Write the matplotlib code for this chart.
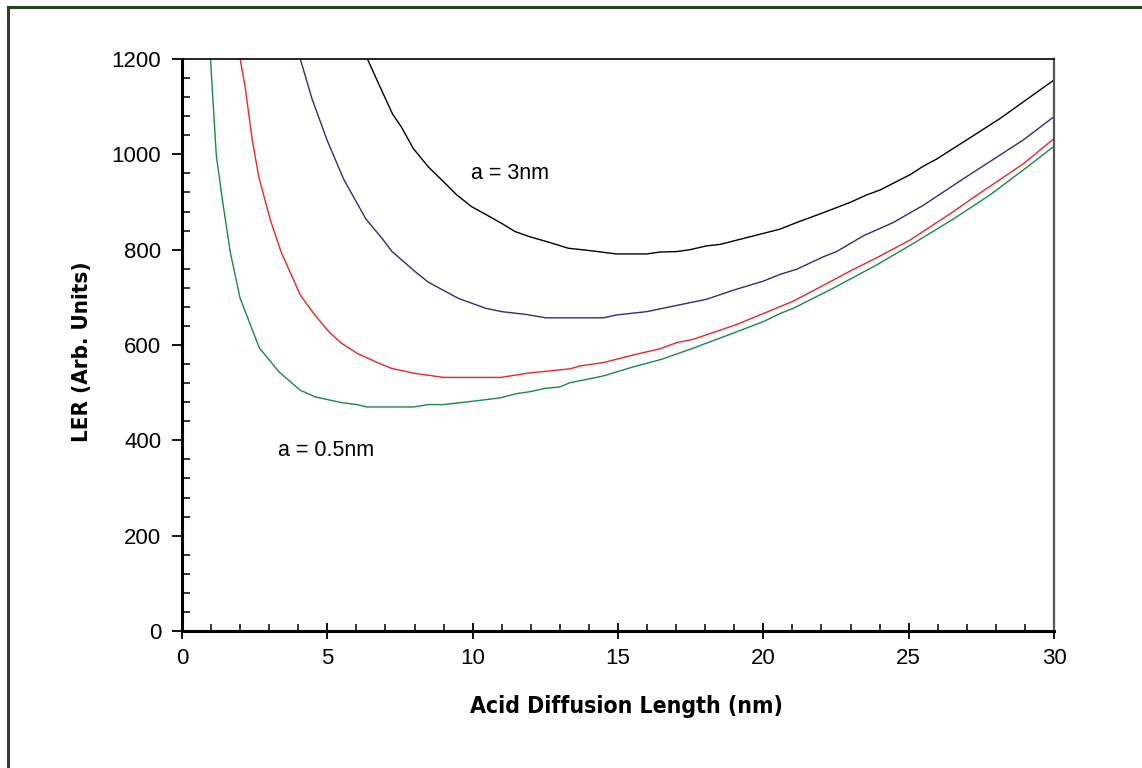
import matplotlib
matplotlib.use("Agg")
import matplotlib.pyplot as plt
from matplotlib.lines import Line2D
from matplotlib.ticker import MultipleLocator

# a = 0.5 nm (green)
x_green = [0.98, 1.18, 1.40, 1.66, 2.0, 2.66, 3.33, 4.07, 4.59, 5.5, 6.02, 6.36, 6.88, 7.96,
           8.47, 8.99, 10.0, 10.94, 11.51, 11.97, 12.49, 13.0, 13.35, 13.69, 14.49, 15.52, 16.5,
           17.48, 18.62, 20.0, 20.57, 21.03, 22.4, 23.9, 25.16, 26.53, 27.8, 28.94, 30.0]
y_green = [1200, 998, 900, 795, 698, 594, 544, 505, 491, 479, 475, 470, 470, 470,
           475, 475, 482, 489, 498, 502, 509, 512, 521, 525, 535, 554, 570,
           591, 617, 649, 666, 677, 719, 768, 813, 864, 915, 967, 1017]

# a = 1 nm (red)
x_red = [2.0, 2.18, 2.41, 2.64, 3.04, 3.41, 4.07, 4.53, 5.05, 5.5, 6.04, 6.84, 7.21, 7.96,
         8.99, 10.0, 10.97, 11.9, 12.54, 13.35, 13.69, 14.49, 15.52, 16.44, 17.02, 17.59,
         18.51, 19.08, 20.0, 21.03, 22.4, 22.98, 23.9, 25.04, 26.42, 27.1, 28.94, 30.0]
y_red = [1200, 1138, 1033, 953, 862, 795, 705, 666, 628, 603, 582, 560, 551, 541,
         532, 532, 532, 541, 545, 550, 556, 563, 579, 592, 605, 612,
         631, 643, 666, 692, 736, 755, 783, 820, 875, 904, 980, 1033]

# a = 2 nm (blue)
x_blue = [4.07, 4.47, 4.99, 5.56, 6.33, 6.88, 7.21, 8.02, 8.47, 9.5, 10.45, 11.0, 11.85,
          12.52, 13.69, 14.49, 14.95, 15.99, 17.02, 18.05, 18.97, 20.0, 20.57, 21.15, 22.06,
          22.52, 23.44, 24.47, 25.04, 25.5, 26.99, 28.94, 30.0]
y_blue = [1200, 1117, 1030, 948, 864, 824, 797, 754, 732, 698, 677, 670, 664,
          657, 657, 657, 663, 670, 683, 696, 715, 734, 748, 759, 785,
          796, 829, 857, 877, 893, 953, 1030, 1079]

# a = 3 nm (black)
x_black = [6.38, 6.81, 7.24, 7.55, 7.96, 8.47, 8.99, 9.45, 9.97, 10.42, 11.0, 11.46, 11.97,
           12.6, 13.29, 14.04, 14.95, 15.99, 16.44, 17.02, 17.48, 18.05, 18.51, 19.54, 20.57,
           21.15, 21.95, 22.98, 23.56, 24.01, 25.04, 25.5, 25.96, 26.99, 28.14, 30.0]
y_black = [1200, 1142, 1085, 1057, 1012, 974, 943, 915, 890, 875, 855, 838, 827,
           816, 803, 798, 791, 791, 795, 796, 800, 808, 811, 827, 843,
           857, 875, 899, 915, 925, 957, 975, 990, 1030, 1075, 1156]

x_ticks = [0, 5, 10, 15, 20, 25, 30]
y_ticks = [0, 200, 400, 600, 800, 1000, 1200]
label_small = "a = 0.5nm"
label_large = "a = 3nm"

plt.rcParams['font.family'] = ['Liberation Sans', 'DejaVu Sans']

fig = plt.figure(figsize=(11.42, 7.68), dpi=100)
ax = fig.add_axes([182/1142, 1-631/768, (1054-182)/1142, (631-59)/768])

ax.plot(x_green, y_green, color='#17894a', lw=1.0)
ax.plot(x_red, y_red, color='#ee2424', lw=1.0)
ax.plot(x_blue, y_blue, color='#2c2e80', lw=1.0)
ax.plot(x_black, y_black, color='black', lw=1.0)

ax.set_xlim(0, 30)
ax.set_ylim(0, 1200)
ax.set_xticks(x_ticks)
ax.set_yticks(y_ticks)
ax.xaxis.set_minor_locator(MultipleLocator(1))
ax.yaxis.set_minor_locator(MultipleLocator(40))

ax.tick_params(axis='x', which='major', direction='inout', length=12, width=1.3,
               labelsize=16, pad=6)
ax.tick_params(axis='x', which='minor', direction='in', length=5, width=1.1)
ax.tick_params(axis='y', which='major', direction='out', length=7, width=1.3,
               labelsize=16, pad=8)
ax.tick_params(axis='y', which='minor', direction='in', length=5.5, width=1.1)

ax.spines['left'].set_linewidth(2.2)
ax.spines['bottom'].set_linewidth(2.2)
ax.spines['top'].set_linewidth(1.2)
ax.spines['right'].set_linewidth(1.6)
ax.spines['right'].set_color('#555555')

ax.text(11.28, 960, label_large, fontsize=15.5, ha='center', va='center')
ax.text(4.95, 378, label_small, fontsize=15.5, ha='center', va='center')

ax.set_xlabel("Acid Diffusion Length (nm)", fontsize=16.5, fontweight='bold',
              fontstretch='condensed', family=['DejaVu Sans'])
ax.set_ylabel("LER (Arb. Units)", fontsize=16, fontweight='bold',
              fontstretch='condensed', family=['DejaVu Sans'])
ax.xaxis.set_label_coords(0.510, -0.112)
ax.yaxis.set_label_coords(-0.103, 0.488)

# dark green frame (left and top edges visible)
bc = '#2b4420'
fig.add_artist(Line2D([8/1142, 8/1142], [0, 1-7/768], transform=fig.transFigure, color=bc, lw=2.2))
fig.add_artist(Line2D([8/1142, 1], [1-7/768, 1-7/768], transform=fig.transFigure, color=bc, lw=2.2))

fig.savefig("out.png", dpi=100)
